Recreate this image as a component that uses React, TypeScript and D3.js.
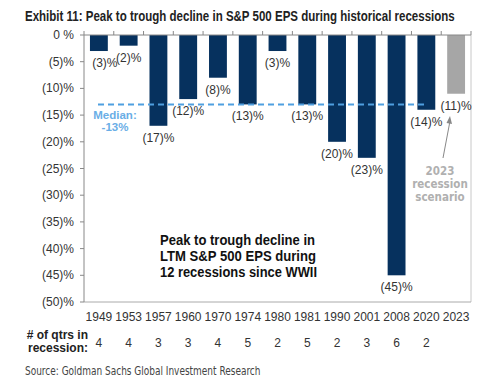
import React, { useLayoutEffect, useRef, useState } from "react";
import * as d3 from "d3";

const years = ["1949","1953","1957","1960","1970","1974","1980","1981","1990","2001","2008","2020","2023"];
const declines = [-3,-2,-17,-12,-8,-13,-3,-13,-20,-23,-45,-14,-11];
const quarters = ["4","4","3","3","4","5","2","5","2","3","6","2",""];
const yTicks = [0,-5,-10,-15,-20,-25,-30,-35,-40,-45,-50];
const median = -13;
const title = "Exhibit 11: Peak to trough decline in S&P 500 EPS during historical recessions";

const W = 500, H = 382;
const left = 84, right = 471, top = 35, bottom = 302;

function fmt(v: number) {
  return v === 0 ? "0 %" : `(${Math.abs(v)})%`;
}

function Fitted({ x, y, width, children, ...rest }: any) {
  const ref = useRef<SVGTextElement>(null);
  const [sx, setSx] = useState(1);
  useLayoutEffect(() => {
    if (ref.current) {
      const w = ref.current.getComputedTextLength();
      if (w > 0) setSx(width / w);
    }
  }, [width]);
  return (
    <g transform={`translate(${x},${y}) scale(${sx},1)`}>
      <text ref={ref} x={0} y={0} {...rest}>{children}</text>
    </g>
  );
}

export default function App() {
  const x = d3.scaleBand<string>().domain(years).range([left, right]).paddingInner(0.4).paddingOuter(0.2);
  const step = (right - left) / years.length;
  const y = d3.scaleLinear().domain([0, -50]).range([top, bottom]);
  const arial = "Arial, 'Liberation Sans', sans-serif";
  const cond = "'DejaVu Sans Condensed', 'DejaVu Sans', sans-serif";
  const annot = [
    { s: "Peak to trough decline in", w: 155 },
    { s: "LTM S&P 500 EPS during", w: 156 },
    { s: "12 recessions since WWII", w: 157 },
  ];
  return (
    <svg width={W} height={H} style={{ position: "absolute", left: 0, top: 0, background: "#fff" }}>
      <Fitted x={25} y={21} width={430} fontFamily={arial} fontWeight="bold" fontSize={14} fill="#222">{title}</Fitted>
      {/* frame */}
      <line x1={right} x2={right} y1={top} y2={bottom} stroke="#c8c8c8" strokeWidth={1} />
      <line x1={left} x2={right} y1={bottom} y2={bottom} stroke="#aaa" strokeWidth={1} />
      <line x1={left} x2={left} y1={top} y2={bottom} stroke="#888" strokeWidth={1} />
      {/* y ticks */}
      {yTicks.map(t => (
        <g key={t}>
          <line x1={left - 4} x2={left} y1={y(t)} y2={y(t)} stroke="#888" />
          <text x={74} y={y(t) + 4} textAnchor="end" fontFamily={arial} fontSize={12} fill="#333">{fmt(t)}</text>
        </g>
      ))}
      {/* bars */}
      {years.map((yr, i) => (
        <rect key={yr} x={x(yr)} width={x.bandwidth()} y={y(0)} height={y(declines[i]) - y(0)}
          fill={i === years.length - 1 ? "#a6a6a6" : "#06315e"} />
      ))}
      {/* top axis line and ticks */}
      <line x1={left} x2={right} y1={top} y2={top} stroke="#888" />
      {d3.range(years.length + 1).map(i => (
        <line key={i} x1={left + i * step} x2={left + i * step} y1={top - 4} y2={top} stroke="#888" />
      ))}
      {/* median */}
      <line x1={98} x2={428} y1={y(median)} y2={y(median)} stroke="#4f9fe0" strokeWidth={2} strokeDasharray="6,4" />
      <text x={115} y={119} textAnchor="middle" fontFamily={arial} fontWeight="bold" fontSize={11.5} fill="#6aaee6">Median:</text>
      <text x={115} y={131} textAnchor="middle" fontFamily={arial} fontWeight="bold" fontSize={11.5} fill="#6aaee6">-13%</text>
      {/* value labels */}
      {years.map((yr, i) => (
        <text key={yr} x={(x(yr) ?? 0) + x.bandwidth() / 2 + (i === 0 ? 6 : 0)} y={y(declines[i]) + 16} textAnchor="middle"
          fontFamily={arial} fontSize={12} fill="#333">{fmt(declines[i])}</text>
      ))}
      {/* 2023 annotation */}
      <line x1={443} x2={450} y1={158} y2={121} stroke="#888" strokeWidth={1} />
      <path d={`M450,116 L446.5,123 L452,124 Z`} fill="#888" />
      {["2023", "recession", "scenario"].map((s, i) => (
        <text key={s} x={440} y={175 + i * 13} textAnchor="middle" fontFamily={cond} fontWeight="bold" fontSize={11.5} fill="#b0b0b0">{s}</text>
      ))}
      {/* big annotation */}
      {annot.map((a, i) => (
        <text key={a.s} x={160} y={245 + i * 16} fontFamily={arial} fontWeight="bold" fontSize={14.5} fill="#111"
          textLength={a.w} lengthAdjust="spacingAndGlyphs">{a.s}</text>
      ))}
      {/* x labels */}
      {years.map(yr => (
        <text key={yr} x={(x(yr) ?? 0) + x.bandwidth() / 2} y={321} textAnchor="middle" fontFamily={arial} fontSize={12} fill="#333">{yr}</text>
      ))}
      <text x={88} y={339} textAnchor="end" fontFamily={arial} fontWeight="bold" fontSize={12} fill="#222"># of qtrs  in</text>
      <text x={88} y={352} textAnchor="end" fontFamily={arial} fontWeight="bold" fontSize={12} fill="#222">recession:</text>
      {years.map((yr, i) => (
        <text key={yr} x={(x(yr) ?? 0) + x.bandwidth() / 2} y={347} textAnchor="middle" fontFamily={arial} fontSize={12} fill="#333">{quarters[i]}</text>
      ))}
      <Fitted x={25} y={375} width={236} fontFamily={cond} fontSize={12} fill="#444">Source: Goldman Sachs Global Investment Research</Fitted>
    </svg>
  );
}
